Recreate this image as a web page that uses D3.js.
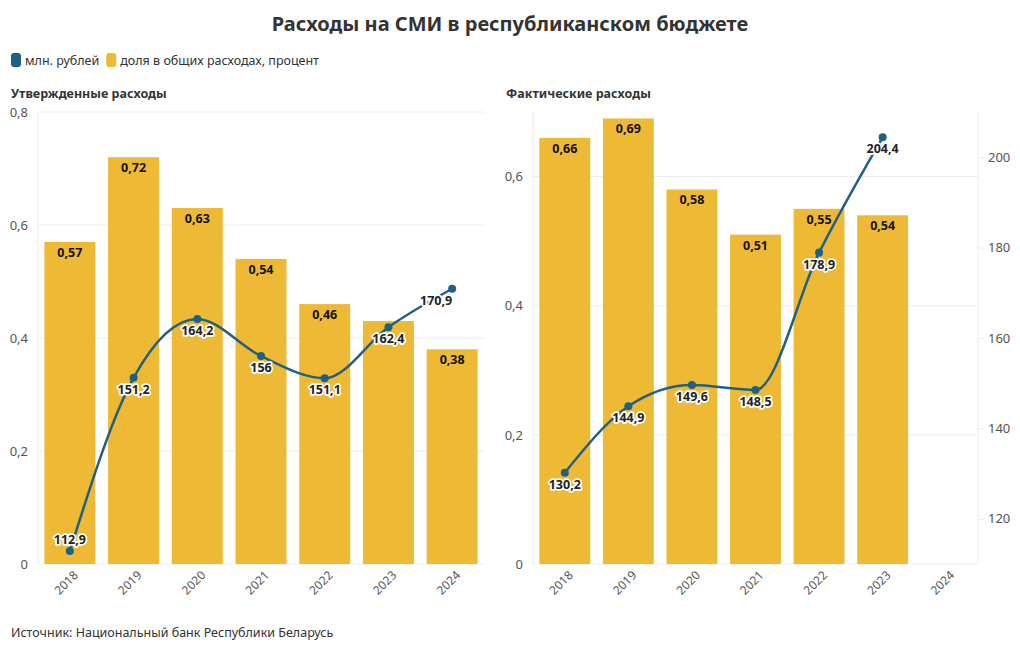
<!DOCTYPE html>
<html><head><meta charset="utf-8">
<script src="https://cdn.jsdelivr.net/npm/d3@7"></script>
<style>
body{margin:0;background:#fff;font-family:"Noto Sans",sans-serif;}
svg text{font-family:"Noto Sans",sans-serif;}
</style></head><body>
<svg id="c" width="1020" height="650"></svg>
<script>
const years = ["2018","2019","2020","2021","2022","2023","2024"];
const approvedShare = [0.57,0.72,0.63,0.54,0.46,0.43,0.38];
const approvedShareLabels = ["0,57","0,72","0,63","0,54","0,46","","0,38"];
const approvedRub = [112.9,151.2,164.2,156,151.1,162.4,170.9];
const actualShare = [0.66,0.69,0.58,0.51,0.55,0.54,null];
const actualShareLabels = ["0,66","0,69","0,58","0,51","0,55","0,54",""];
const actualRub = [130.2,144.9,149.6,148.5,178.9,204.4,null];
const leftTicks = [0,0.2,0.4,0.6,0.8];
const rightLeftTicks = [0,0.2,0.4,0.6];
const rubTicks = [120,140,160,180,200];

const BAR="#EEB935", LINE="#1f6185", GRID="#ececec", TXT="#333";
const svg = d3.select("#c");
const fmt = v => String(v).replace(".", ",");

svg.append("text").attr("x",510).attr("y",31).attr("text-anchor","middle")
  .attr("font-size",20).attr("font-weight",700).attr("fill",TXT)
  .text("Расходы на СМИ в республиканском бюджете");

// legend
const leg = [["млн. рублей",LINE],["доля в общих расходах, процент",BAR]];
let lx=11;
leg.forEach(([t,c])=>{
  svg.append("rect").attr("x",lx).attr("y",53).attr("width",10).attr("height",14).attr("rx",3).attr("fill",c);
  const tt=svg.append("text").attr("x",lx+14).attr("y",65).attr("font-size",12.5).attr("fill",TXT).text(t);
  lx += 14 + tt.node().getComputedTextLength() + 7;
});

svg.append("text").attr("x",11).attr("y",637).attr("font-size",12.5).attr("fill",TXT)
  .text("Источник: Национальный банк Республики Беларусь");

function panel(x0,x1,title,shares,shareLabels,rubs,shareMax,shTicks,showRight,labelPos){
  const top=112,bottom=564;
  const x=d3.scaleBand().domain(years).range([x0,x1]).paddingInner(0.2).paddingOuter(0.1);
  const y=d3.scaleLinear().domain([0,shareMax]).range([bottom,top]);
  const y2=d3.scaleLinear().domain([110,210]).range([bottom,top]);
  svg.append("text").attr("x",x0-27).attr("y",98).attr("font-size",12.5).attr("font-weight",700).attr("fill",TXT).text(title);
  const g=svg.append("g");
  // grid
  g.selectAll(".gl").data(shTicks.filter(d=>d>0)).join("line")
    .attr("x1",x0).attr("x2",x1).attr("y1",d=>y(d)).attr("y2",d=>y(d)).attr("stroke",GRID);
  g.append("line").attr("x1",x0).attr("x2",x0).attr("y1",top).attr("y2",bottom).attr("stroke",GRID);
  g.append("line").attr("x1",x0).attr("x2",x1).attr("y1",bottom).attr("y2",bottom).attr("stroke",GRID);
  // left axis
  const ax=d3.axisLeft(y).tickValues(shTicks).tickFormat(d=>fmt(d)).tickSize(0).tickPadding(10);
  const ag=g.append("g").attr("transform",`translate(${x0},0)`).call(ax);
  ag.select(".domain").remove();
  ag.selectAll("text").attr("font-size",13).attr("fill","#555");
  if(showRight){
    g.append("line").attr("x1",x1).attr("x2",x1).attr("y1",top).attr("y2",bottom).attr("stroke",GRID);
    const ar=d3.axisRight(y2).tickValues(rubTicks).tickSize(6).tickPadding(4);
    const rg=g.append("g").attr("transform",`translate(${x1},0)`).call(ar);
    rg.select(".domain").remove();
    rg.selectAll("line").attr("stroke",GRID);
    rg.selectAll("text").attr("font-size",13).attr("fill","#555");
  }
  // x axis
  const xa=d3.axisBottom(x).tickSize(0).tickPadding(0);
  const xg=g.append("g").attr("transform",`translate(0,${bottom})`).call(xa);
  xg.select(".domain").remove();
  xg.selectAll(".tick text").attr("font-size",12).attr("fill","#555")
    .attr("text-anchor","end").attr("x",0).attr("y",0).attr("dy","0.35em")
    .attr("transform","translate(6,9) rotate(-45)");
  // bars
  const bd=years.map((yr,i)=>({yr,v:shares[i],l:shareLabels[i]})).filter(d=>d.v!=null);
  g.selectAll(".bar").data(bd).join("rect")
    .attr("x",d=>x(d.yr)).attr("width",x.bandwidth()).attr("y",d=>y(d.v)).attr("height",d=>bottom-y(d.v)).attr("fill",BAR);
  g.selectAll(".bl").data(bd).join("text")
    .attr("x",d=>x(d.yr)+x.bandwidth()/2).attr("y",d=>y(d.v)+15).attr("text-anchor","middle")
    .attr("font-size",12.5).attr("font-weight",700).attr("fill","#111")
    .attr("stroke",BAR).attr("stroke-width",3).attr("paint-order","stroke")
    .text(d=>d.l);
  // line
  const ld=years.map((yr,i)=>({yr,v:rubs[i],i})).filter(d=>d.v!=null);
  const cx=d=>x(d.yr)+x.bandwidth()/2;
  g.append("path").datum(ld).attr("fill","none").attr("stroke",LINE).attr("stroke-width",2.5)
    .attr("d",d3.line().x(cx).y(d=>y2(d.v)).curve(d3.curveMonotoneX));
  g.selectAll(".pt").data(ld).join("circle").attr("cx",cx).attr("cy",d=>y2(d.v)).attr("r",4).attr("fill",LINE);
  g.selectAll(".ll").data(ld).join("text")
    .attr("x",d=>cx(d)+labelPos[d.i][0]).attr("y",d=>y2(d.v)+labelPos[d.i][1]).attr("text-anchor","middle")
    .attr("font-size",12.5).attr("font-weight",700).attr("fill","#222")
    .attr("stroke","#fff").attr("stroke-width",3.5).attr("stroke-linejoin","round").attr("paint-order","stroke")
    .text(d=>fmt(d.v));
}
panel(38,484,"Утвержденные расходы",approvedShare,approvedShareLabels,approvedRub,0.8,leftTicks,false,
  [[0,-7],[0,16],[0,16],[0,16],[0,16],[0,16],[-16,16]]);
panel(533,978,"Фактические расходы",actualShare,actualShareLabels,actualRub,0.7,rightLeftTicks,true,
  [[0,16],[0,16],[0,16],[0,16],[0,16],[0,16],[0,16]]);
</script></body></html>
